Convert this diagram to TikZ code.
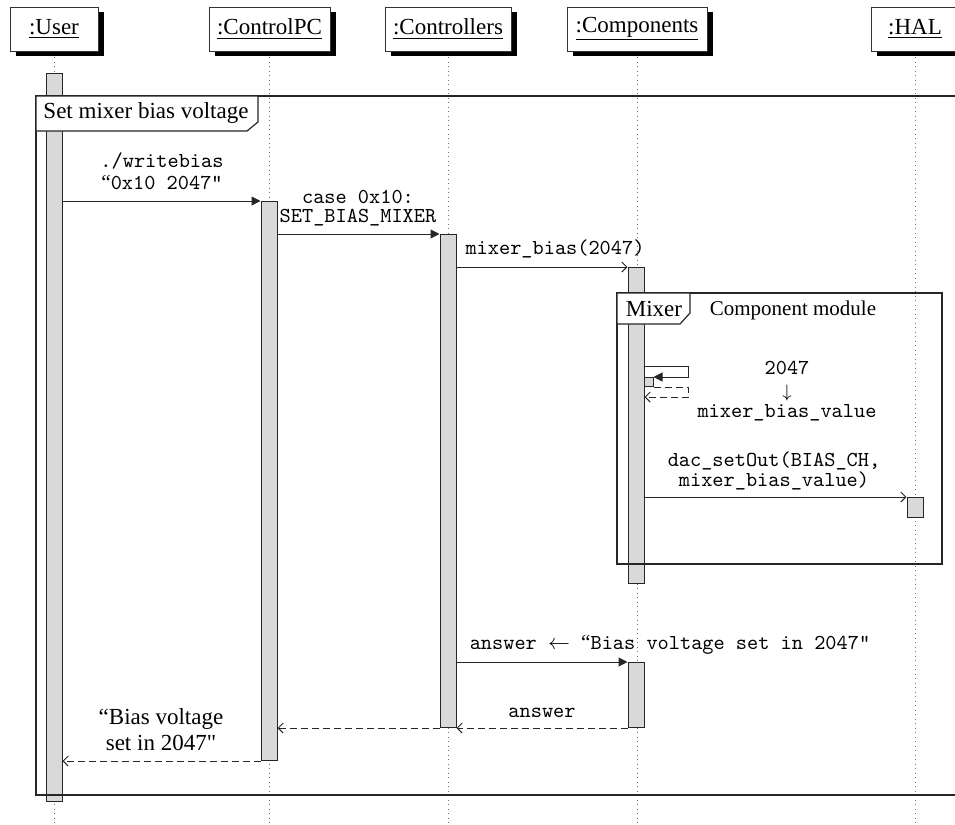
\documentclass[tikz,border=0pt]{standalone}
\usepackage{fontspec}
\setmainfont{Liberation Serif}[Ligatures=TeXOff]
\usetikzlibrary{arrows.meta,shadows,calc}

% font sizes for the two kinds of labels
\newcommand{\rmlab}{\fontsize{11.5}{13}\selectfont}
\newcommand{\ttlab}{\ttfamily\fontsize{10.65}{11}\selectfont}
% curly opening quote set in the serif face inside typewriter text
\newcommand{\oq}{{\rmfamily “}}

\tikzset{
  hdr/.style={draw=black!80, line width=0.5pt, fill=white, minimum height=22pt,
    inner sep=0pt, font=\rmlab,
    drop shadow={shadow xshift=2.75pt, shadow yshift=-2.5pt, fill=black, opacity=1}},
  life/.style={draw=black!55, line width=0.45pt, dash pattern=on 0.45pt off 1.8pt},
  actbar/.style={draw=black!85, line width=0.5pt, fill=black!15, minimum width=8pt,
    inner sep=0pt, anchor=north},
  call/.style={draw=black!85, line width=0.5pt, -{Triangle[length=4.5pt,width=4.5pt]}},
  msg/.style={draw=black!85, line width=0.5pt, -{Straight Barb[length=2.5pt,width=5pt]}},
  ret/.style={msg, dash pattern=on 3.5pt off 2pt},
  lbl/.style={inner sep=0pt, text depth=0pt, anchor=south, align=center},
  frm/.style={draw=black!85, line width=0.6pt},
}

\begin{document}
\begin{tikzpicture}[x=0.5pt, y=-0.5pt]
\useasboundingbox (0,0) rectangle (955,825);
\clip (0,0) rectangle (955,825);

% participants
\node[hdr, minimum width=44pt]   (hU) at (54,29)    {\underline{:User}};
\node[hdr, minimum width=60.5pt] (hP) at (269.5,29) {\underline{:ControlPC}};
\node[hdr, minimum width=63pt]   (hC) at (448,29)   {\underline{:Controllers}};
\node[hdr, minimum width=70pt]   (hM) at (637,29)   {\underline{:Components}};
\node[hdr, minimum width=44pt]   (hH) at (915,29)   {\underline{:HAL}};

% lifelines
\coordinate (eU) at (54,825);
\coordinate (eP) at (269.5,825);
\coordinate (eC) at (448,825);
\coordinate (eM) at (637,825);
\coordinate (eH) at (915,825);
\draw[life] ([yshift=-2.75pt]hU.south) -- (eU);
\draw[life] ([yshift=-2.75pt]hP.south) -- (eP);
\draw[life] ([yshift=-2.75pt]hC.south) -- (eC);
\draw[life] ([yshift=-2.75pt]hM.south) -- (eM);
\draw[life] ([yshift=-2.75pt]hH.south) -- (eH);

% activation bars
\node[actbar, minimum height=364pt]   (bU)  at (54,73)   {};
\node[actbar, minimum height=279.5pt] (bP)  at (269,201) {};
\node[actbar, minimum height=246.5pt] (bC)  at (448,234) {};
\node[actbar, minimum height=158pt]   (bM)  at (636,267) {};
\node[actbar, minimum width=4.5pt, minimum height=4.5pt] (bS) at (648.5,377) {};
\node[actbar, minimum height=10pt]    (bH)  at (915,497) {};
\node[actbar, minimum height=32.5pt]  (bM2) at (636,662) {};

% messages
\draw[call] (bU.east |- bP.north) -- (bP.north west);
\draw[call] (bP.east |- bC.north) -- (bC.north west);
\draw[msg]  (bC.east |- bM.north) -- (bM.north west);
\coordinate (selfR) at (688,0);
\draw[call] (bM.east |- 0,366) -| (selfR |- bS.north) -- (bS.north east);
\draw[ret]  (bS.south east) -| (selfR |- 0,397) -- (bM.east |- 0,397);
\draw[msg]  (bM.east |- bH.north) -- (bH.north west);
\draw[call] (bC.east |- bM2.north) -- (bM2.north west);
\draw[ret]  (bM2.south west) -- (bC.south east);
\draw[ret]  (bC.south west) -- (bP.east |- bC.south);
\draw[ret]  (bP.south west) -- (bU.east |- bP.south);

% interaction frames
\draw[frm] (36,96) rectangle (975,795);
\draw[frm, fill=white] (36,96) -- (258,96) -- (258,122) -- (247,131) -- (36,131) -- cycle;
\node[anchor=base, inner sep=0pt, font=\rmlab] (fOuter) at (146,118) {Set mixer bias voltage};

\draw[frm] (617,293) rectangle (942,564);
\draw[frm, fill=white] (617,293) -- (690,293) -- (690,313) -- (680,324) -- (617,324) -- cycle;
\node[anchor=base, inner sep=0pt, font=\rmlab] (fMix) at (654,316) {Mixer};
\node[anchor=base, inner sep=0pt, font=\fontsize{10.5}{12}\selectfont] (fMod) at (793,315) {Component module};

% message labels
\node[lbl, font=\ttlab] (l1) at (162,190) {./writebias\\\oq0x10 2047"};
\node[lbl, font=\ttfamily\fontsize{10.65}{9.5}\selectfont] (l2) at (358,223) {case 0x10:\\SET\_BIAS\_MIXER};
\node[lbl, font=\ttfamily\fontsize{10.65}{10}\selectfont] (l4) at (787,418)
  {2047\\[1.5pt]{\fontsize{9.5}{9.5}\selectfont$\downarrow$}\\mixer\_bias\_value};
\node[lbl, font=\ttlab] (l3) at (555,255) {mixer\_bias(2047)};
\node[lbl, font=\ttfamily\fontsize{10.65}{10}\selectfont] (l5) at (774,487)
  {dac\_setOut(BIAS\_CH,\\mixer\_bias\_value)};
\node[lbl, font=\ttlab] (l6) at (670,650) {answer $\leftarrow$ \oq Bias voltage set in 2047"};
\node[lbl, font=\ttlab] (l7) at (542,718) {answer};
\node[lbl, font=\rmlab] (l8) at (161,751) {“Bias voltage\\set in 2047"};
\end{tikzpicture}
\end{document}
